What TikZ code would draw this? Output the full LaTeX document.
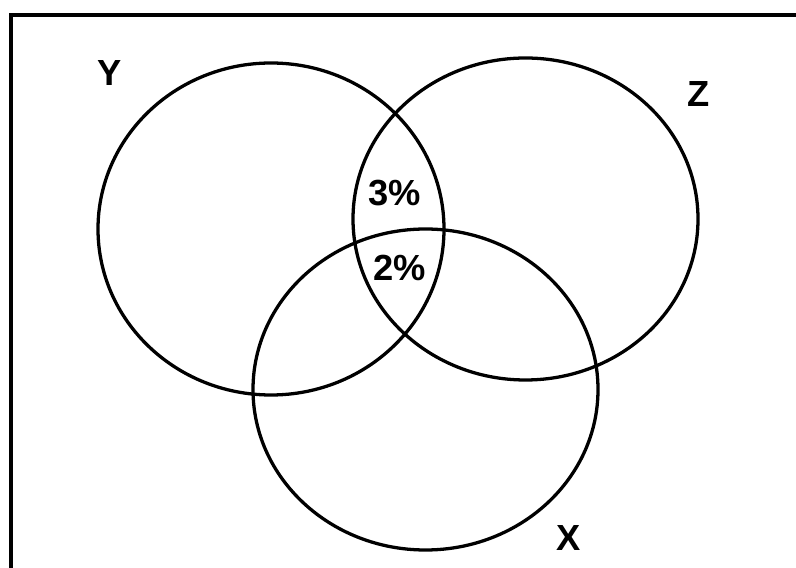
\documentclass[tikz,border=0pt]{standalone}
\usepackage{fontspec}
\setmainfont{Liberation Sans}
\begin{document}
\begin{tikzpicture}[x=0.03cm, y=0.03cm,
  every node/.style={font=\fontsize{31}{34}\selectfont\bfseries, inner sep=0pt},
  set/.style={line width=2.8pt},
  frame/.style={line width=3.4pt}]
  % Page
  \clip (0,0) rectangle (796,567);
  \fill[white] (0,0) rectangle (796,567);
  \draw[frame] (11,552) rectangle (810,-10);
  % Sets
  \draw[set] (271,338) ellipse [x radius=173, y radius=166];
  \draw[set] (525.5,348) ellipse [x radius=172.5, y radius=161];
  \draw[set] (425.5,177.5) ellipse [x radius=172.5, y radius=160.5];
  % Set names
  \node (labY) at (110,494) {Y};
  \node (labZ) at (699,473) {Z};
  \node (labX) at (569,29) {X};
  % Shares
  \node (yz) at (395,374) {3\%};
  \node (xyz) at (400,299) {2\%};
\end{tikzpicture}
\end{document}
